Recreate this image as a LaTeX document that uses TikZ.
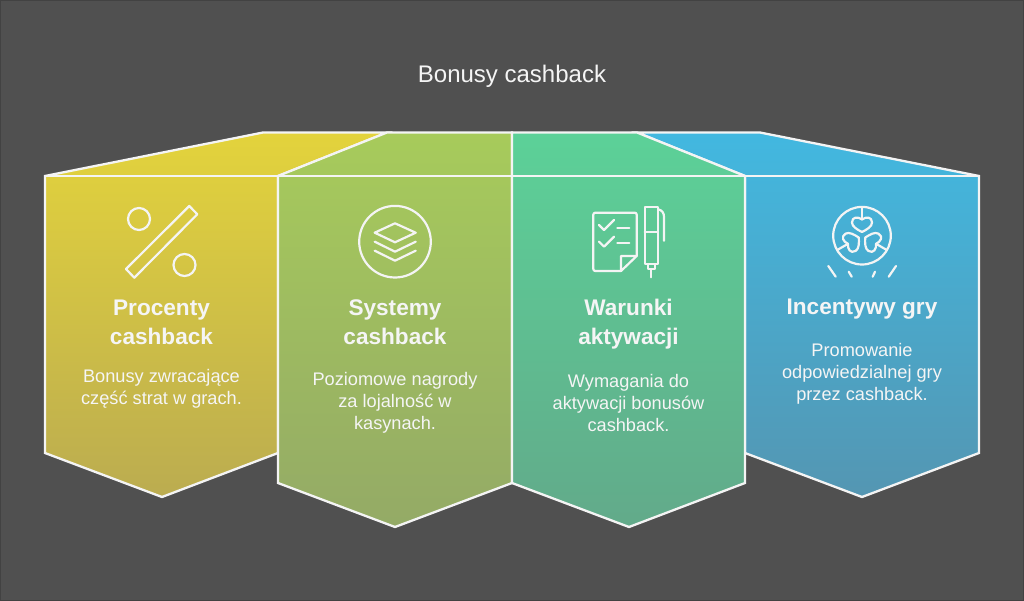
\documentclass[tikz,border=0pt]{standalone}
\usepackage{fontspec}
\setmainfont{Liberation Sans}
\usetikzlibrary{positioning}
\definecolor{bgdark}{HTML}{505050}
\definecolor{bgedge}{HTML}{424242}
\definecolor{edgewhite}{HTML}{F4F4F4}
\definecolor{textwhite}{HTML}{F5F5F5}
\definecolor{yellowtop}{HTML}{E3D33C}
\definecolor{yellowbot}{HTML}{BBAC50}
\definecolor{greentop}{HTML}{A7CB5B}
\definecolor{greenbot}{HTML}{94AA66}
\definecolor{tealtop}{HTML}{5CD198}
\definecolor{tealbot}{HTML}{62AA8A}
\definecolor{bluetop}{HTML}{42B8E0}
\definecolor{bluebot}{HTML}{5496B2}
\tikzset{
    face/.style={draw=edgewhite,line width=2.3pt,line join=miter},
    glyph/.style={draw=edgewhite,line width=2.2pt,line cap=round,line join=round},
    titletext/.style={text=textwhite,font=\fontsize{24}{28}\selectfont},
    headtext/.style={text=textwhite,align=center,font=\fontsize{22.6}{29}\selectfont\bfseries},
    bodytext/.style={text=textwhite,align=center,font=\fontsize{18.2}{22}\selectfont}
}

\begin{document}
\begin{tikzpicture}[x=1pt,y=-1pt]
    \fill[bgdark] (0,0) rectangle (1024,601);
    \draw[bgedge,line width=1pt] (0.5,0.5) rectangle (1023.5,600.5);
    \useasboundingbox (0,0) rectangle (1024,601);

    % panels, outer ones first
    \path[face,top color=yellowtop,bottom color=yellowbot]
        (45,176) -- (263,132.5) -- (387,132.5) -- (278,176) -- (278,453) -- (162,497) -- (45,453) -- cycle;
    \path[face,top color=bluetop,bottom color=bluebot]
        (979,176) -- (760,132.5) -- (637,132.5) -- (745,176) -- (745,453) -- (862,497) -- (979,453) -- cycle;
    \path[face,top color=greentop,bottom color=greenbot]
        (278,176) -- (387,132.5) -- (512,132.5) -- (512,483) -- (395,527) -- (278,483) -- cycle;
    \path[face,top color=tealtop,bottom color=tealbot]
        (512,132.5) -- (637,132.5) -- (745,176) -- (745,483) -- (629,527) -- (512,483) -- cycle;
    \draw[face] (45,176) -- (979,176);

    % percent
    \draw[glyph] (139,219) circle (11);
    \draw[glyph] (184.5,265) circle (11);
    \draw[glyph] (189.3,206) -- (197.3,214.3) -- (134.3,277.7) -- (126,269) -- cycle;

    % layers
    \draw[glyph] (395,241.7) circle (35.8);
    \draw[glyph] (395,223.3) -- (415.7,232.7) -- (395,242.3) -- (374.7,232.7) -- cycle;
    \draw[glyph] (374.7,241.7) -- (395,251.7) -- (415.7,241.7);
    \draw[glyph] (374.7,250.7) -- (395,260.7) -- (415.7,250.7);

    % checklist and pen
    \draw[glyph,rounded corners=2pt] (621,271) -- (593.3,271) -- (593.3,212.7) -- (636.7,212.7) -- (636.7,256);
    \draw[glyph] (636.7,256) -- (621,271) -- (621,256) -- cycle;
    \draw[glyph] (599,225) -- (604,230) -- (614,220);
    \draw[glyph] (599,241.7) -- (604,246.7) -- (614,236.7);
    \draw[glyph] (617.3,228.3) -- (629.3,228.3);
    \draw[glyph] (617.3,243.3) -- (629.3,243.3);
    \draw[glyph] (644.7,206.7) rectangle (658,264);
    \draw[glyph] (644.7,232.3) -- (658,232.3);
    \draw[glyph] (648,264) rectangle (654.7,269.3);
    \draw[glyph] (651.3,269.3) -- (651.3,277.3);
    \draw[glyph] (658,209.3) .. controls (662,210) and (664,213) .. (664,216.7) -- (664,240.7);

    % hearts in a wheel
    \draw[glyph] (862,235.7) circle (28.8);
    \foreach \ang in {0,120,240} {
        \begin{scope}[rotate around={\ang:(862,235.7)}]
            \draw[glyph] (862,207) -- (862,219.5);
            \draw[glyph] (862,219.5) .. controls (858,216.5) and (852,216.5) .. (852,222.5)
                .. controls (852,226.5) and (857,229.5) .. (862,232)
                .. controls (867,229.5) and (872,226.5) .. (872,222.5)
                .. controls (872,216.5) and (866,216.5) .. (862,219.5);
        \end{scope}
    }
    \draw[glyph] (828.3,266) -- (835.7,276.7);
    \draw[glyph] (848.7,271.7) -- (851.7,276.7);
    \draw[glyph] (875,271.7) -- (872.7,276.7);
    \draw[glyph] (896,266) -- (888.7,276.7);

    % texts
    \node[titletext] (title) at (512,76) {Bonusy cashback};
    \node[headtext] (head1) at (161.5,322.5) {Procenty\\cashback};
    \node[headtext] (head2) at (395,322.5) {Systemy\\cashback};
    \node[headtext] (head3) at (628.5,324) {Warunki\\aktywacji};
    \node[headtext] (head4) at (862,309.5) {Incentywy gry};
    \node[bodytext] (body1) at (161.5,389) {Bonusy zwracające\\część strat w grach.};
    \node[bodytext] (body2) at (395,403) {Poziomowe nagrody\\za lojalność w\\kasynach.};
    \node[bodytext] (body3) at (628.5,403) {Wymagania do\\aktywacji bonusów\\cashback.};
    \node[bodytext] (body4) at (862,374) {Promowanie\\odpowiedzialnej gry\\przez cashback.};
\end{tikzpicture}
\end{document}
